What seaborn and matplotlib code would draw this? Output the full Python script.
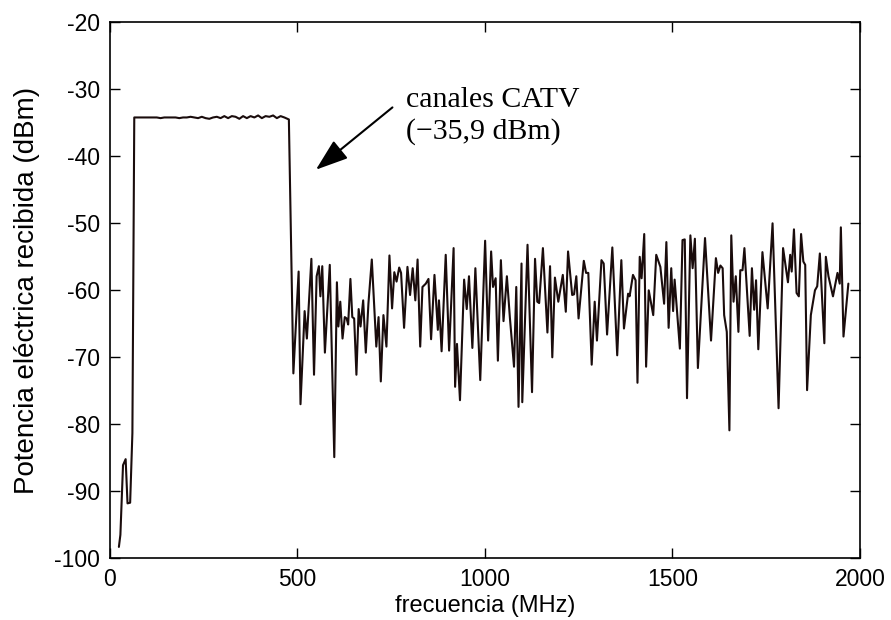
import matplotlib
matplotlib.use("Agg")
import matplotlib.pyplot as plt
import seaborn as sns
import pandas as pd

# ---- data ----
freq_low = [25, 29, 36, 43, 48, 55, 61]
power_low = [-98.3, -96.5, -86.1, -85.2, -91.8, -91.7, -81.3]

freq_flat = [66, 76, 86, 96, 106, 116, 126, 136, 146, 156, 166, 176, 186, 196,
             206, 216, 226, 236, 246, 256, 266, 276, 286, 296, 306, 316, 326,
             336, 346, 356, 366, 376, 386, 396, 406, 416, 426, 436, 446, 456,
             466, 478]
power_flat = [-34.2, -34.2, -34.2, -34.2, -34.2, -34.2, -34.2, -34.3, -34.2,
              -34.2, -34.2, -34.2, -34.3, -34.2, -34.2, -34.1, -34.2, -34.3,
              -34.1, -34.3, -34.4, -34.2, -34.1, -34.3, -34.0, -34.3, -34.0,
              -34.1, -34.4, -34.0, -34.3, -34.0, -34.2, -33.9, -34.3, -34.0,
              -34.1, -33.9, -34.3, -34.0, -34.2, -34.5]

freq_noise = [490, 504, 509, 520, 526, 538, 545, 552, 558, 562, 567, 574, 587,
              599, 606, 610, 615, 621, 627, 632, 636, 642, 647, 652, 658, 664,
              669, 676, 683, 690, 699, 711, 717, 723, 730, 738, 746, 753, 759,
              765, 772, 777, 785, 794, 801, 808, 815, 821, 828, 834, 843, 850,
              857, 866, 875, 878, 885, 896, 905, 917, 921, 926, 934, 945, 952,
              958, 967, 975, 988, 1001, 1009, 1017, 1022, 1029, 1035, 1043,
              1050, 1059, 1067, 1078, 1084, 1090, 1098, 1100, 1114, 1126, 1134,
              1140, 1145, 1155, 1167, 1174, 1180, 1187, 1196, 1208, 1216, 1222,
              1233, 1238, 1244, 1250, 1264, 1270, 1276, 1285, 1293, 1299, 1311,
              1317, 1326, 1340, 1353, 1364, 1371, 1382, 1386, 1395, 1402, 1407,
              1413, 1418, 1425, 1430, 1437, 1449, 1457, 1468, 1478, 1484, 1490,
              1497, 1502, 1506, 1520, 1527, 1533, 1539, 1548, 1554, 1560, 1568,
              1587, 1603, 1616, 1622, 1628, 1634, 1638, 1645, 1652, 1657, 1663,
              1669, 1676, 1681, 1687, 1692, 1706, 1712, 1718, 1723, 1729, 1740,
              1754, 1767, 1783, 1795, 1808, 1814, 1818, 1824, 1831, 1837, 1843,
              1849, 1854, 1859, 1869, 1880, 1886, 1893, 1905, 1909, 1916, 1928,
              1940, 1946, 1949, 1956, 1969]
power_noise = [-72.4, -57.2, -77.0, -63.1, -67.2, -55.3, -72.6, -57.9, -56.4,
               -60.9, -56.4, -69.3, -56.2, -84.9, -58.8, -65.4, -61.7, -67.2,
               -64.0, -64.2, -65.1, -58.3, -64.0, -64.2, -72.6, -62.8, -65.4,
               -61.5, -69.3, -62.0, -55.4, -68.4, -64.0, -73.6, -63.7, -68.4,
               -54.8, -62.7, -57.3, -58.7, -56.6, -57.4, -65.6, -56.5, -60.7,
               -56.7, -61.5, -55.4, -68.4, -59.5, -59.0, -58.3, -67.3, -57.7,
               -65.9, -61.5, -69.1, -54.7, -69.0, -53.7, -74.4, -68.0, -76.4,
               -58.4, -62.8, -57.9, -68.6, -56.7, -73.4, -52.6, -67.5, -54.2,
               -59.5, -58.2, -70.5, -55.5, -64.6, -57.9, -64.1, -71.4, -59.5,
               -77.4, -56.0, -76.7, -53.2, -75.2, -55.3, -61.7, -61.9, -53.7,
               -66.3, -56.4, -70.0, -58.1, -61.7, -57.7, -63.2, -54.2, -60.7,
               -60.6, -57.9, -64.2, -55.6, -57.4, -57.4, -71.1, -61.7, -67.5,
               -55.5, -56.0, -66.6, -53.6, -69.7, -55.5, -65.7, -60.5, -60.9,
               -57.7, -58.5, -73.8, -55.0, -58.2, -51.6, -71.4, -60.0, -63.7,
               -54.7, -56.5, -62.0, -52.8, -65.6, -56.7, -63.1, -58.4, -68.7,
               -52.5, -52.4, -76.1, -51.8, -56.7, -52.3, -71.6, -52.2, -67.5,
               -55.2, -57.4, -56.3, -56.7, -63.7, -66.2, -80.9, -51.8, -61.7,
               -57.9, -66.2, -57.0, -57.0, -53.7, -66.8, -56.7, -62.9, -58.5,
               -68.8, -54.3, -62.7, -50.0, -77.6, -53.7, -58.8, -54.7, -57.2,
               -50.9, -60.4, -60.9, -51.6, -55.7, -56.2, -74.9, -63.7, -60.0,
               -59.4, -54.5, -67.9, -55.0, -57.9, -60.9, -57.4, -59.0, -50.6,
               -66.9, -59.0]

x_ticks = [0, 500, 1000, 1500, 2000]
y_ticks = [-100, -90, -80, -70, -60, -50, -40, -30, -20]
annot_lines = ["canales CATV", "(\u221235,9 dBm)"]

df = pd.DataFrame({
    "freq": freq_low + freq_flat + freq_noise,
    "power": power_low + power_flat + power_noise,
})

# ---- styling ----
sns.set_style("ticks")
plt.rcParams["font.family"] = ["Liberation Sans", "DejaVu Sans"]
plt.rcParams["axes.unicode_minus"] = False
plt.rcParams["text.color"] = "black"
plt.rcParams["axes.labelcolor"] = "black"
plt.rcParams["xtick.color"] = "black"
plt.rcParams["ytick.color"] = "black"

fig = plt.figure(figsize=(8.91, 6.2), dpi=100)
ax = fig.add_axes([0.1229, 0.0995, 0.8423, 0.8645])

sns.lineplot(data=df, x="freq", y="power", ax=ax, color="#1a0c0c",
             linewidth=1.5, estimator=None, sort=False)

ax.set_xlim(0, 2000)
ax.set_ylim(-100, -20)
ax.set_xticks(x_ticks)
ax.set_yticks(y_ticks)
ax.tick_params(direction="in", length=7, width=1.0, top=True, right=True,
               labelsize=16.5, colors="black")
ax.tick_params(axis="x", pad=7)
ax.tick_params(axis="y", pad=7)
for s in ax.spines.values():
    s.set_visible(True)
    s.set_linewidth(1.2)
    s.set_color("black")

ax.set_xlabel("frecuencia (MHz)", fontsize=17, labelpad=3)
ax.set_ylabel("Potencia eléctrica recibida (dBm)", fontsize=20, labelpad=10)

serif = ["Liberation Serif", "DejaVu Serif"]
ax.text(790, -32.7, annot_lines[0], fontsize=21.5, family=serif, va="baseline")
ax.text(790, -37.3, annot_lines[1], fontsize=21.5, family=serif, va="baseline")
ax.annotate("", xy=(550, -42.0), xytext=(754, -32.7),
            arrowprops=dict(arrowstyle="-|>,head_length=2.0,head_width=0.7",
                            color="black", lw=1.5, shrinkA=0, shrinkB=0))

fig.savefig("out.png", dpi=100)
